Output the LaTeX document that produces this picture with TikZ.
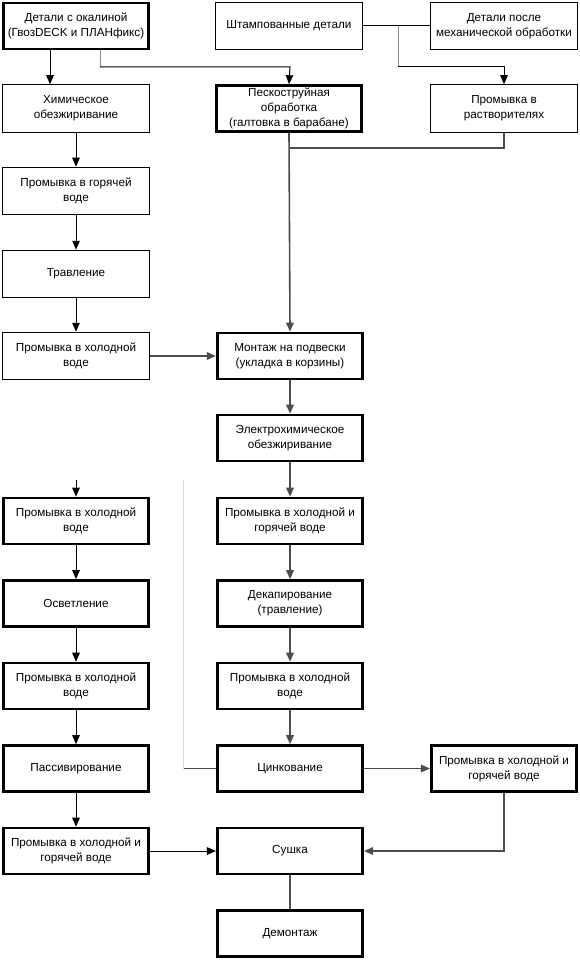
\documentclass[tikz,border=0pt]{standalone}
\usepackage{fontspec}
\setmainfont{Liberation Sans}
\usetikzlibrary{arrows.meta}
\begin{document}
\begin{tikzpicture}[x=1pt,y=-1pt,
  box/.style={draw, line width=1pt, minimum width=147pt, minimum height=47.5pt, align=center, inner sep=1pt, font=\fontsize{11.7}{15}\selectfont},
  tbox/.style={box, line width=2.6pt, minimum width=145.5pt, minimum height=46pt},
  arr/.style={-{Triangle[length=9pt,width=7.5pt]}, line width=1pt, draw=black},
  garr/.style={arr, draw=black!70, line width=1.6pt},
  gline/.style={draw=black!70, line width=1.6pt},
  lgline/.style={draw=black!25, line width=1pt},
  bline/.style={draw=black, line width=1pt}]
\fill[white] (0,0) rectangle (580,960);
\useasboundingbox (0,0) rectangle (580,960);

\node[tbox] (a0) at (76,26) {Детали с окалиной\\(ГвозDECK и ПЛАНфикс)};
\node[box] (b0) at (289,26) {Штампованные детали};
\node[box] (c0) at (504,26) {Детали после\\механической обработки};
\node[box] (a1) at (76,108.5) {Химическое\\обезжиривание};
\node[tbox] (b1) at (289,108.5) {Пескоструйная\\обработка\\(галтовка в барабане)};
\node[box] (c1) at (504,108.5) {Промывка в\\растворителях};
\node[box] (a2) at (76,191) {Промывка в горячей\\воде};
\node[box] (a3) at (76,274) {Травление};
\node[box] (a4) at (76,356) {Промывка в холодной\\воде};
\node[tbox] (b4) at (290,356) {Монтаж на подвески\\(укладка в корзины)};
\node[tbox] (b5) at (290,438) {Электрохимическое\\обезжиривание};
\node[tbox] (a6) at (76,521) {Промывка в холодной\\воде};
\node[tbox] (b6) at (290,521) {Промывка в холодной и\\горячей воде};
\node[tbox] (a7) at (76,603.5) {Осветление};
\node[tbox] (b7) at (290,603.5) {Декапирование\\(травление)};
\node[tbox] (a8) at (76,686) {Промывка в холодной\\воде};
\node[tbox] (b8) at (290,686) {Промывка в холодной\\воде};
\node[tbox] (a9) at (76,768.5) {Пассивирование};
\node[tbox] (b9) at (290,768.5) {Цинкование};
\node[tbox] (c9) at (504,768.5) {Промывка в холодной и\\горячей воде};
\node[tbox] (a10) at (76,851) {Промывка в холодной и\\горячей воде};
\node[tbox] (b10) at (290,851) {Сушка};
\node[tbox] (b11) at (290,933.5) {Демонтаж};

% top connections
\coordinate (k0) at (100,67);
\coordinate (k1) at (290,67);
\draw[arr] ([xshift=-26pt]a0.south) -- ([xshift=-26pt]a1.north);
\draw[lgline, draw=black!45] ([xshift=24pt]a0.south) -- (k0);
\draw[arr] (k0) -- (k1) -- (b1.north);
\draw[bline] (b0.east) -- (c0.west);
\coordinate (k2) at (398,26);
\coordinate (k3) at (398,67);
\coordinate (k4) at (504,67);
\draw[lgline, draw=black!45] (k2) -- (k3);
\draw[arr] (k3) -- (k4) -- (c1.north);
\coordinate (k5) at (290,148);
\draw[gline] (c1.south) |- (k5);
\draw[garr] (b1.south) -- (b4.north);

% left column
\draw[arr] (a1) -- (a2);
\draw[arr] (a2) -- (a3);
\draw[arr] (a3) -- (a4);
\draw[garr] (a4.east) -- (b4.west);
\coordinate (s6) at (76,480);
\draw[arr] (s6) -- (a6.north);
\draw[arr] (a6) -- (a7);
\draw[arr] (a7) -- (a8);
\draw[arr] (a8) -- (a9);
\draw[arr] (a9) -- (a10);
\draw[arr] (a10.east) -- (b10.west);

% middle column
\draw[garr] (b4) -- (b5);
\draw[garr] (b5) -- (b6);
\draw[garr] (b6) -- (b7);
\draw[garr] (b7) -- (b8);
\draw[garr] (b8) -- (b9);
\draw[garr] (b9.east) -- (c9.west);
\draw[garr] (c9.south) |- (b10.east);
\draw[gline] (b10) -- (b11);

% faint loop
\coordinate (m1) at (183,768.5);
\coordinate (m2) at (183,480);
\draw[gline, line width=1.2pt] (b9.west) -- (m1);
\draw[lgline, draw=black!15] (m1) -- (m2);
\end{tikzpicture}
\end{document}
